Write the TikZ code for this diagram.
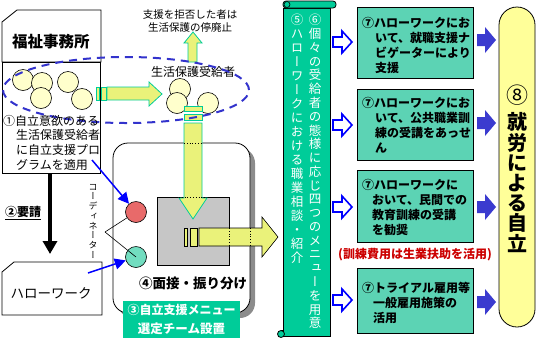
\documentclass[tikz,border=0pt]{standalone}
\usepackage{fontspec}
\setmainfont{Noto Sans CJK JP}
\newfontfamily\jpv[RawFeature=+vert]{Noto Sans CJK JP}
\usetikzlibrary{arrows.meta}
\definecolor{tealG}{HTML}{00CC99}
\definecolor{tealH}{HTML}{5CD3B4}
\definecolor{ygreen}{HTML}{EAF27A}
\definecolor{cream}{HTML}{FFFFCC}
\definecolor{grayH}{HTML}{C6C6C6}
\definecolor{redH}{HTML}{E86A6A}
\definecolor{tealC}{HTML}{72DDC0}
\definecolor{blueD}{HTML}{3333CC}
\definecolor{yBox}{HTML}{FFFF99}
\definecolor{blueF}{HTML}{3B3BCF}
\definecolor{redT}{HTML}{CC0000}
\begin{document}
\begin{tikzpicture}[x=1pt,y=-1pt,
  lbl/.style={inner sep=0pt},
  fs/.style={font=\fontsize{#1}{#1}\selectfont},
  bfs/.style={font=\bfseries\fontsize{#1}{#1}\selectfont},
  bub/.style={circle,draw=black,fill=cream,line width=0.6pt,minimum size=21pt,inner sep=0pt},
  yarrow/.style={draw=tealG,fill=ygreen,line width=0.8pt},
  openarr/.style={draw=blue,fill=white,line width=1.6pt,line join=miter},
  menubox/.style={draw=black,fill=tealH,line width=0.8pt},
  bluearr/.style={draw=blue,line width=1.5pt,-{Triangle[length=11pt,width=11pt]}},
  vtext/.style={inner sep=0pt,align=center,anchor=north}
]
\useasboundingbox (0,0) rectangle (538,341);
% ---- office box
\draw[fill=white,line width=0.8pt] (2,22) -- (17,10) -- (101,10) -- (101,62) -- (2,62) -- cycle;
\draw[fill=white,line width=0.8pt] (2,62) rectangle (100,173);
\node[lbl,bfs=15.5] (office) at (51,42) {福祉事務所};
% cream bubbles in office
\node[bub] (b1) at (23,80) {};
\node[bub] (b2) at (42,83) {};
\node[bub] (b3) at (41,98) {};
\node[bub] (b4) at (68,82) {};
\node[bub] (b5) at (82,99) {};
% horizontal arrow to recipients
\draw[yarrow] (96,87) rectangle (99,100);
\draw[yarrow] (101,87) rectangle (106,100);
\draw[yarrow] (107,87) -- (149,87) -- (149,82) -- (162,94) -- (149,106) -- (149,100) -- (107,100) -- cycle;
% recipients bubbles
\node[bub] (r1) at (180,89) {};
\node[bub] (r2) at (177,103) {};
\node[bub] (r3) at (208,103) {};
\node[lbl,fs=12] (recip) at (193,72) {生活保護受給者};
% up arrow and its label
\draw[yarrow] (188,62) -- (188,43) -- (184,43) -- (193,32) -- (202,43) -- (197,43) -- (197,62) -- cycle;
\node[lbl,fs=10.5] (stop1) at (190,15) {支援を拒否した者は};
\node[lbl,fs=10.5] (stop2) at (190,28) {生活保護の停廃止};
% ---- big rounded panel
\fill[gray!90,rounded corners=15pt] (118,148) rectangle (255,318);
\draw[fill=white,line width=0.8pt,rounded corners=15pt] (113,143) rectangle (250,313);
\draw[fill=grayH,line width=0.8pt] (157,197) rectangle (229,265);
% down arrow
\draw[yarrow] (184,106) rectangle (202,111);
\draw[yarrow] (184,114) rectangle (202,120);
\draw[yarrow] (184,123) -- (202,123) -- (202,198) -- (207,198) -- (193,219) -- (179,198) -- (184,198) -- cycle;
\draw[dotted,line width=0.8pt] (184,143) -- (202,143);
\draw[dotted,line width=0.8pt] (179,197) -- (207,197);
% right arrow out of panel
\draw[fill=ygreen,draw=black,line width=0.6pt] (184,228) rectangle (187,246);
\draw[fill=ygreen,draw=black,line width=0.6pt] (190,228) rectangle (197,246);
\draw[fill=ygreen,draw=black,line width=0.6pt] (199,228) -- (262,228) -- (262,217) -- (278,237) -- (262,257) -- (262,246) -- (199,246) -- cycle;
\draw[dotted,line width=0.8pt] (229,228) -- (229,246);
\draw[dotted,line width=0.8pt] (250,228) -- (250,246);
% dashed ellipse
\draw[blueD,line width=2pt,dash pattern=on 8pt off 6pt] (126,90) ellipse [x radius=123pt, y radius=33pt];
% text (1)
\node[lbl,fs=12,anchor=west] (t1) at (3,121) {①自立意欲のある};
\node[lbl,fs=12,anchor=west] (t2) at (16,135) {生活保護受給者};
\node[lbl,fs=12,anchor=west] (t3) at (16,150) {に自立支援プロ};
\node[lbl,fs=12,anchor=west] (t4) at (16,165) {グラムを適用};
% request arrow
\node[lbl,bfs=12,anchor=west] (req) at (5,213) {\underline{②要請}};
\coordinate (rs) at (50,174);
\coordinate (re) at (50,254);
\draw[line width=4pt,-{Triangle[length=13pt,width=14pt]}] (rs) -- (re);
% hello work box
\draw[fill=white,line width=0.8pt] (2,272) -- (14,262) -- (102,262) -- (102,315) -- (2,315) -- cycle;
\node[lbl,fs=13.5] (hw) at (51,293) {ハローワーク};
% coordinators
\node[circle,draw=black,fill=redH,line width=0.6pt,minimum size=21pt,inner sep=0pt] (red) at (136,212) {};
\node[circle,draw=black,fill=tealC,line width=0.6pt,minimum size=21pt,inner sep=0pt] (tealc) at (136,257) {};
\node[vtext,font=\jpv\fontsize{9}{9.7}\selectfont] (coord) at (93,184) {コ\\ー\\デ\\ィ\\ネ\\ー\\タ\\ー};
\coordinate (v) at (105,232);
\draw[line width=0.6pt] (v) -- (red);
\draw[line width=0.6pt] (v) -- (tealc.center);
\coordinate (a1) at (92,160);
\coordinate (a2) at (88,273);
\draw[bluearr] (a1) -- (red);
\draw[bluearr] (a2) -- (tealc);
\node[lbl,bfs=13.5] (interview) at (193,283) {④面接・振り分け};
% team box
\node[fill=tealG,minimum width=117pt,minimum height=37pt,inner sep=0pt] (team) at (181.5,319.5) {};
\node[lbl,bfs=12,text=white] (team1) at (181.5,310) {③自立支援メニュー};
\node[lbl,bfs=12.5,text=white] (team2) at (181.5,329) {選定チーム設置};
% ---- scroll
\draw[fill=tealG,line width=0.8pt] (283,8) -- (330,8) -- (330,336) -- (281,336) -- (281,330) -- (283,330) -- cycle;
\draw[fill=tealG,line width=0.8pt,rounded corners=3pt] (283,1) rectangle (336,8);
\draw[fill=tealG,line width=0.6pt] (287,4.5) circle[radius=3pt];
\draw[fill=tealG,line width=0.8pt] (281,334) circle[radius=3.5pt];
\node[vtext,text=white,font=\jpv\fontsize{12.5}{13.77}\selectfont] (col6) at (315,14.1) {⑥\\個\\々\\の\\受\\給\\者\\の\\態\\様\\に\\応\\じ\\四\\つ\\の\\メ\\ニ\\ュ\\ー\\を\\用\\意};
\node[vtext,text=white,font=\jpv\fontsize{12.5}{14}\selectfont] (col5) at (297,14.1) {⑤\\ハ\\ロ\\ー\\ワ\\ー\\ク\\に\\お\\け\\る\\職\\業\\相\\談\\・\\紹\\介};
% ---- open arrows
\foreach \yy in {42,125,207,300}{
  \draw[openarr] (333,\yy-5) -- (342,\yy-5) -- (342,\yy-11) -- (352,\yy) -- (342,\yy+11) -- (342,\yy+5) -- (333,\yy+5) -- cycle;
}
% ---- menu boxes
\draw[menubox] (357,7) rectangle (473,78);
\draw[menubox] (357,89) rectangle (473,160);
\draw[menubox] (357,170) rectangle (473,242);
\draw[menubox] (357,268) rectangle (473,333);
\begin{scope}[every node/.style={lbl,bfs=12,anchor=west}]
\node (m11) at (362,23) {⑦ハローワークにお};
\node (m12) at (375,38) {いて、就職支援ナ};
\node (m13) at (375,53) {ビゲーターにより};
\node (m14) at (375,68) {支援};
\node (m21) at (362,103) {⑦ハローワークにお};
\node (m22) at (375,118) {いて、公共職業訓};
\node (m23) at (375,133) {練の受講をあっせ};
\node (m24) at (375,148) {ん};
\node (m31) at (362,185) {⑦ハローワークに};
\node (m32) at (372,200) {おいて、民間での};
\node (m33) at (372,215) {教育訓練の受講};
\node (m34) at (372,230) {を勧奨};
\node (m41) at (362,288) {⑦トライアル雇用等};
\node (m42) at (373,303) {一般雇用施策の};
\node (m43) at (373,318) {活用};
\end{scope}
\node[lbl,bfs=12,text=redT] (cost) at (415,255) {(訓練費用は生業扶助を活用)};
% ---- filled arrows
\foreach \yy in {40,123,207,302}{
  \fill[blueF] (477,\yy-6) -- (485,\yy-6) -- (485,\yy-13) -- (496,\yy) -- (485,\yy+13) -- (485,\yy+6) -- (477,\yy+6) -- cycle;
}
% ---- goal box
\draw[fill=yBox,line width=0.8pt,rounded corners=18pt] (499,7) rectangle (535,327);
\node[lbl,fs=22] (g8) at (517,95) {⑧};
\node[vtext,font=\bfseries\fontsize{20}{20.2}\selectfont] (goal) at (517,112.6) {就\\労\\に\\よ\\る\\自\\立};
\end{tikzpicture}
\end{document}
